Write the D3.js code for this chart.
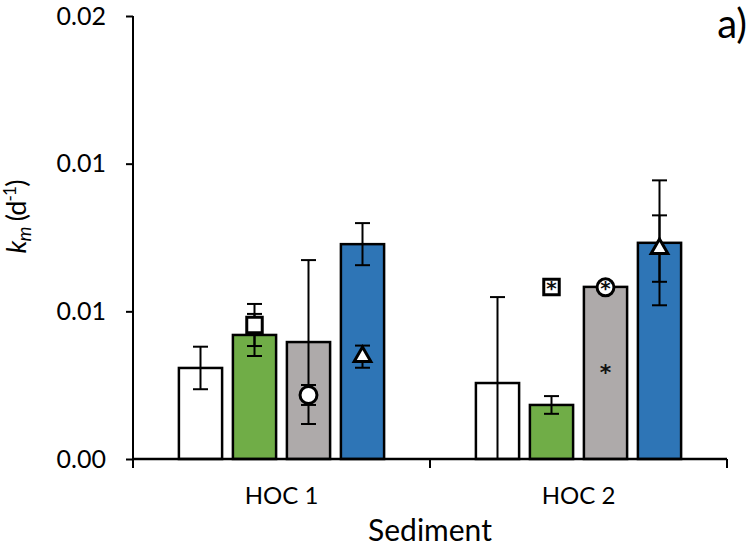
<!DOCTYPE html>
<html>
<head>
<meta charset="utf-8">
<script src="https://cdn.jsdelivr.net/npm/d3@7"></script>
<style>
  html, body { margin: 0; padding: 0; background: #fff; }
  svg { display: block; font-family: Lato, "Open Sans", sans-serif; }
</style>
</head>
<body>
<svg id="chart" width="750" height="546"></svg>
<script>
// ---------- data ----------
const categories = ["HOC 1", "HOC 2"];
const series = ["control", "green", "gray", "blue"];
const seriesColors = ["#FFFFFF", "#70AD47", "#AEAAAA", "#2E75B6"];
// bar means per category (rows) and series (columns)
const barValues = [
  [0.00411, 0.00560, 0.00528, 0.00970],
  [0.00343, 0.00244, 0.00777, 0.00976]
];
const barErrors = [
  [0.00096, 0.00095, 0.00370, 0.00095],
  [0.00388, 0.00040, 0,       0.00282]
];
// overlay markers: square on green, circle on gray, triangle on blue
const markerSeries = ["green", "gray", "blue"];
const markerShapes = ["square", "circle", "triangle"];
const markerValues = [
  [0.00605, 0.00289, 0.00462],
  [0.00777, 0.00775, 0.00950]
];
const markerErrors = [
  [0.00095, 0.00045, 0.00050],
  [0,       0,       0.00150]
];
// asterisks: markers flagged and a bar flagged
const markerStars = [
  [false, false, false],
  [true,  true,  false]
];
const barStars = [
  [false, false, false, false],
  [false, false, true,  false]
];
const yTicks = [0, 0.02 / 3, 0.04 / 3, 0.02];
const yTickLabels = ["0.00", "0.01", "0.01", "0.02"];
const yDomain = [0, 0.02];

// ---------- layout ----------
const svg = d3.select("#chart");
const mLeft = 133, mRight = 727, mTop = 16, mBottom = 459;

const x0 = d3.scaleBand().domain(categories).range([mLeft, mRight]).paddingInner(0).paddingOuter(0);
const x1 = d3.scaleBand().domain(series).range([0, x0.bandwidth()]).paddingInner(0.2).paddingOuter(0.85);
const y = d3.scaleLinear().domain(yDomain).range([mBottom, mTop]);

const shapeType = { square: d3.symbolSquare, circle: d3.symbolCircle, triangle: d3.symbolTriangle };
const shapeSize = { square: 240, circle: 225, triangle: 120 };

const g = svg.append("g");

// bars
categories.forEach((cat, ci) => {
  const cg = g.append("g").attr("transform", `translate(${x0(cat)},0)`);
  cg.selectAll("rect.bar")
    .data(series.map((s, si) => ({ s, si, v: barValues[ci][si] })))
    .join("rect")
    .attr("class", "bar")
    .attr("x", d => x1(d.s))
    .attr("width", x1.bandwidth())
    .attr("y", d => y(d.v))
    .attr("height", d => y(0) - y(d.v))
    .attr("fill", d => seriesColors[d.si])
    .attr("stroke", "#000")
    .attr("stroke-width", 2.5);
});

function errorBar(parent, cx, v, e, capW) {
  if (!e) return;
  const lo = Math.max(0, v - e), hi = v + e;
  parent.append("line").attr("x1", cx).attr("x2", cx).attr("y1", y(hi)).attr("y2", y(lo))
    .attr("stroke", "#000").attr("stroke-width", 2);
  parent.append("line").attr("x1", cx - capW / 2).attr("x2", cx + capW / 2).attr("y1", y(hi)).attr("y2", y(hi))
    .attr("stroke", "#000").attr("stroke-width", 2);
  if (v - e >= 0) {
    parent.append("line").attr("x1", cx - capW / 2).attr("x2", cx + capW / 2).attr("y1", y(lo)).attr("y2", y(lo))
      .attr("stroke", "#000").attr("stroke-width", 2);
  }
}

// bar error bars
categories.forEach((cat, ci) => {
  series.forEach((s, si) => {
    const cx = x0(cat) + x1(s) + x1.bandwidth() / 2;
    errorBar(g, cx, barValues[ci][si], barErrors[ci][si], 15);
  });
});

// marker error bars
categories.forEach((cat, ci) => {
  markerSeries.forEach((s, mi) => {
    const cx = x0(cat) + x1(s) + x1.bandwidth() / 2;
    errorBar(g, cx, markerValues[ci][mi], markerErrors[ci][mi], 15);
  });
});

// bar asterisks
categories.forEach((cat, ci) => {
  series.forEach((s, si) => {
    if (!barStars[ci][si]) return;
    const cx = x0(cat) + x1(s) + x1.bandwidth() / 2;
    const cy = y(barValues[ci][si] / 2);
    g.append("text").attr("x", cx).attr("y", cy).attr("text-anchor", "middle")
      .attr("dominant-baseline", "central").attr("font-size", 22).attr("fill", "#111")
      .attr("font-weight", "bold")
      .attr("font-family", "DejaVu Sans, sans-serif").text("*");
  });
});

// markers
categories.forEach((cat, ci) => {
  markerSeries.forEach((s, mi) => {
    const cx = x0(cat) + x1(s) + x1.bandwidth() / 2;
    const cy = y(markerValues[ci][mi]);
    const shp = markerShapes[mi];
    g.append("path")
      .attr("d", d3.symbol().type(shapeType[shp]).size(shapeSize[shp])())
      .attr("transform", `translate(${cx},${cy})`)
      .attr("fill", "#fff").attr("stroke", "#000").attr("stroke-width", 3)
      .attr("stroke-linejoin", "miter");
    if (markerStars[ci][mi]) {
      g.append("text").attr("x", cx).attr("y", cy + 1).attr("text-anchor", "middle")
        .attr("dominant-baseline", "central").attr("font-size", 20).attr("fill", "#111")
        .attr("font-weight", "bold")
        .attr("font-family", "DejaVu Sans, sans-serif").text("*");
    }
  });
});

// y axis
const yAxis = d3.axisLeft(y).tickValues(yTicks).tickSize(7).tickPadding(20)
  .tickFormat((d, i) => yTickLabels[i]);
const yg = svg.append("g").attr("transform", `translate(${mLeft},0)`).call(yAxis);
yg.select(".domain").attr("d", `M0,${mTop}V${mBottom + 8}`).attr("stroke-width", 2);
yg.selectAll(".tick line").attr("stroke-width", 2);
yg.selectAll(".tick text").attr("font-size", 25).attr("font-family", "Lato, sans-serif").attr("fill", "#000");

// x axis
const xAxis = d3.axisBottom(x0).tickSize(0).tickPadding(28);
const xg = svg.append("g").attr("transform", `translate(0,${mBottom})`).call(xAxis);
xg.select(".domain").attr("d", `M${mLeft},0H${mRight}`).attr("stroke-width", 2.5);
xg.selectAll(".tick text").attr("font-size", 24).attr("font-family", "Lato, sans-serif").attr("fill", "#000");
const boundaries = categories.map(c => x0(c)).concat([x0(categories[categories.length - 1]) + x0.bandwidth()]);
xg.selectAll("line.bound").data(boundaries).join("line").attr("class", "bound")
  .attr("x1", d => d).attr("x2", d => d).attr("y1", 0).attr("y2", 9)
  .attr("stroke", "#000").attr("stroke-width", 2);

// axis titles
svg.append("text").attr("x", (mLeft + mRight) / 2) .attr("y", 541).attr("text-anchor", "middle")
  .attr("font-size", 30).attr("font-family", "Lato, sans-serif").text("Sediment");

const yl = svg.append("text").attr("transform", "translate(26,217) rotate(-90)")
  .attr("text-anchor", "middle").attr("font-size", 27).attr("letter-spacing", -0.8)
  .attr("font-family", "Lato, sans-serif");
yl.append("tspan").attr("font-style", "italic").text("k");
yl.append("tspan").attr("font-style", "italic").attr("font-size", 19).attr("dy", 5).text("m");
yl.append("tspan").attr("dy", -5).text(" (d");
yl.append("tspan").attr("font-size", 17).attr("dy", -10).text("-1");
yl.append("tspan").attr("dy", 10).text(")");

svg.append("text").attr("x", 747).attr("y", 38).attr("text-anchor", "end")
  .attr("font-size", 40).attr("font-family", "Lato, sans-serif").text("a)");
</script>
</body>
</html>
